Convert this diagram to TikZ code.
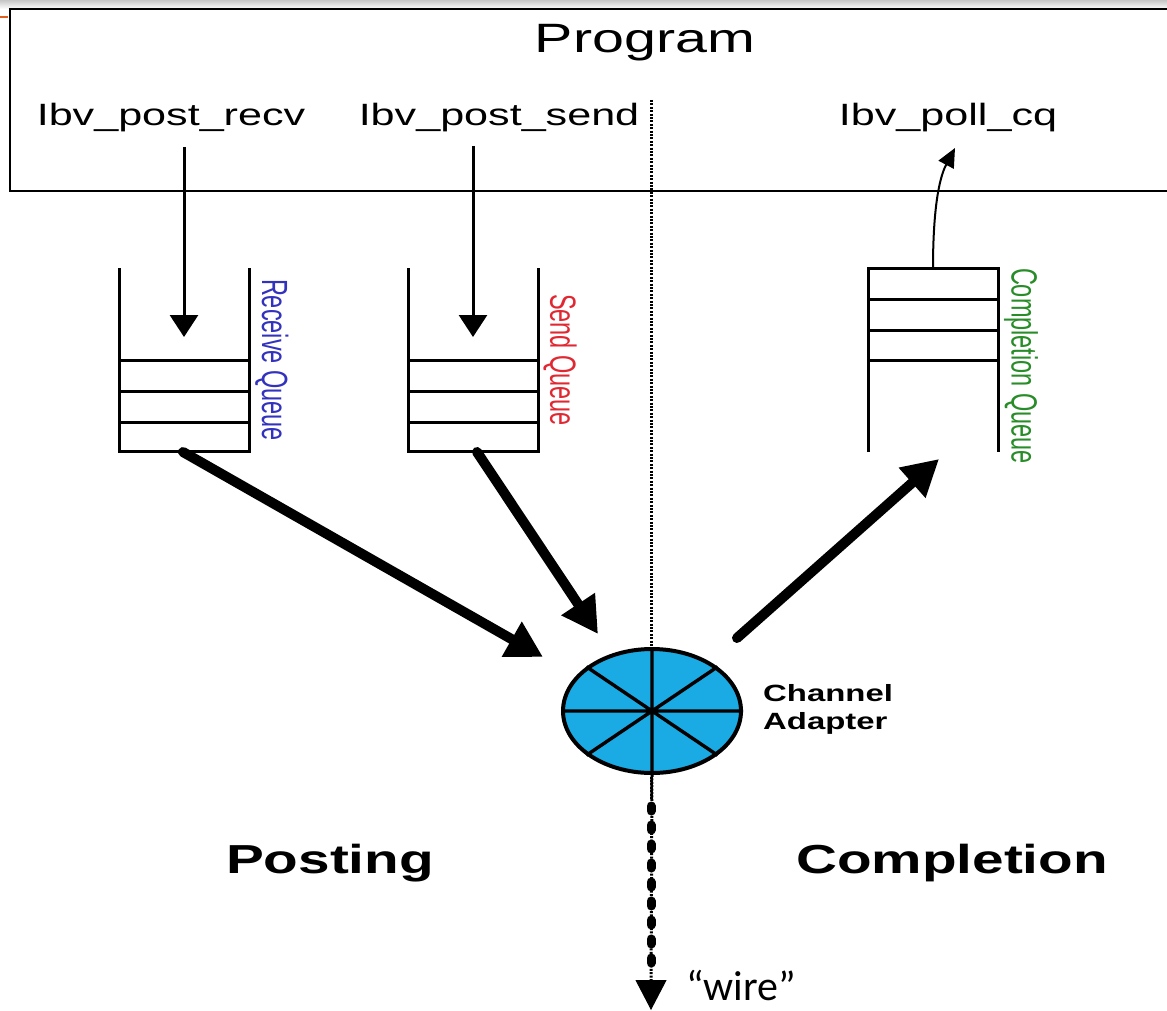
\documentclass[tikz,border=0pt]{standalone}
\usepackage{fontspec}
\setmainfont{Liberation Sans}
\newfontfamily\widesans[FakeStretch=1.4]{Liberation Sans}
\newfontfamily\quotefont{Carlito}
\usetikzlibrary{arrows.meta,shapes.geometric,calc}

\definecolor{adapterblue}{RGB}{26,170,228}
\definecolor{rqblue}{RGB}{50,50,190}
\definecolor{sqred}{RGB}{225,40,50}
\definecolor{cqgreen}{RGB}{40,140,40}
\definecolor{slideorange}{RGB}{225,95,30}

\tikzset{
  qline/.style={line width=3pt},
  callarrow/.style={line width=3pt, -{Triangle[length=22pt,width=28pt]}},
  pollarrow/.style={line width=2pt, -{Triangle[length=19pt,width=17pt]}},
  fatarrow/.style={line width=10pt, line cap=round, -{Triangle[length=36pt,width=38pt]}},
  apicall/.style={font=\widesans\fontsize{30.8}{34}\selectfont, anchor=base, inner sep=0pt},
  qlabel/.style={rotate=-90, inner sep=0pt, font=\fontsize{23.5}{26}\selectfont},
  sidelabel/.style={font=\widesans\bfseries\fontsize{40.5}{44}\selectfont, anchor=base, inner sep=0pt},
  divider/.style={line width=3pt, dash pattern=on 2pt off 1.4pt},
}

\begin{document}
\begin{tikzpicture}[x=1pt,y=-1pt]
\useasboundingbox (0,0) rectangle (1167,1011);
\fill[white] (0,0) rectangle (1167,1011);

% slide header strip
\shade[top color=gray!45, bottom color=white] (0,0) rectangle (1167,9);
\draw[slideorange, line width=2pt] (0,17) -- (8,17);

% program frame
\draw[line width=2.2pt] (1167,9) -- (10,9) -- (10,191) -- (1167,191);
\node[font=\widesans\fontsize{41}{44}\selectfont, anchor=base, inner sep=0pt] (prog) at (645,53) {Program};

% API calls
\node[apicall] (recv) at (171,126) {Ibv\_post\_recv};
\node[apicall] (send) at (499,126) {Ibv\_post\_send};
\node[apicall] (poll) at (948,126) {Ibv\_poll\_cq};

% posting / completion divider
\coordinate (divtop) at (651,100);
\coordinate (divmid) at (651,800);
\draw[divider] (divtop) -- (divmid);

% receive queue
\draw[qline] (119,268) -- (119,451) -- (249,451) -- (249,268);
\draw[qline] (119,360) -- (249,360) (119,391) -- (249,391) (119,422) -- (249,422);
\node[qlabel, text=rqblue] (rqlab) at (272,360) {\scalebox{1}[1.55]{Receive Queue}};

% send queue
\draw[qline] (408,268) -- (408,451) -- (538,451) -- (538,268);
\draw[qline] (408,360) -- (538,360) (408,391) -- (538,391) (408,422) -- (538,422);
\node[qlabel, text=sqred] (sqlab) at (560,360) {\scalebox{1}[1.55]{Send Queue}};

% completion queue
\draw[qline] (868,452) -- (868,268) -- (998,268) -- (998,452);
\draw[qline] (868,299) -- (998,299) (868,330) -- (998,330) (868,360) -- (998,360);
\node[qlabel, text=cqgreen] (cqlab) at (1021,366) {\scalebox{1}[1.55]{Completion Queue}};

% anchor points of the connectors
\coordinate (recvout) at (184,147);
\coordinate (rqin) at (184,337);
\coordinate (sendout) at (473,146);
\coordinate (sqin) at (473,337);
\coordinate (cqtop) at (933,268);
\coordinate (pollin) at (955,148);
\coordinate (rqbot) at (183,452);
\coordinate (sqbot) at (477,452);
\coordinate (rqtip) at (543,657);
\coordinate (sqtip) at (598,634);
\coordinate (caout) at (737,638);
\coordinate (cqtip) at (939,459);

\draw[callarrow] (recvout) -- (rqin);
\draw[callarrow] (sendout) -- (sqin);
\draw[pollarrow] (cqtop) .. controls (933,215) and (938,180) .. (pollin);

\draw[fatarrow] (rqbot) -- (rqtip);
\draw[fatarrow] (sqbot) -- (sqtip);
\draw[fatarrow] (caout) -- (cqtip);

% channel adapter
\node[ellipse, draw, line width=4pt, fill=adapterblue, minimum width=178pt, minimum height=124pt, inner sep=0pt] (ca) at (652,711) {};
\draw[line width=3.4pt] (ca.0) -- (ca.180) (ca.90) -- (ca.270) (ca.34) -- (ca.214) (ca.146) -- (ca.326);
\node[font=\widesans\bfseries\fontsize{23.5}{28}\selectfont, align=left, anchor=north west, inner sep=0pt] (calab) at (763,684) {Channel\\Adapter};

% wire below the adapter
\coordinate (wirebot) at (651,985);
\coordinate (wiretip) at (651,1010);
\draw[divider] (ca.270) -- (wirebot);
\draw[line width=9pt, line cap=round, dash pattern=on 5pt off 14pt] (651,806) -- (651,975);
\draw[line width=1pt, -{Triangle[length=30pt,width=31pt]}] (wirebot) -- (wiretip);
\node[font=\quotefont\fontsize{42}{44}\selectfont, anchor=base west, inner sep=0pt] (wire) at (686,1000) {“wire”};

% side captions
\node[sidelabel] (posting) at (330,873) {Posting};
\node[sidelabel] (completion) at (952,873) {Completion};
\end{tikzpicture}
\end{document}
